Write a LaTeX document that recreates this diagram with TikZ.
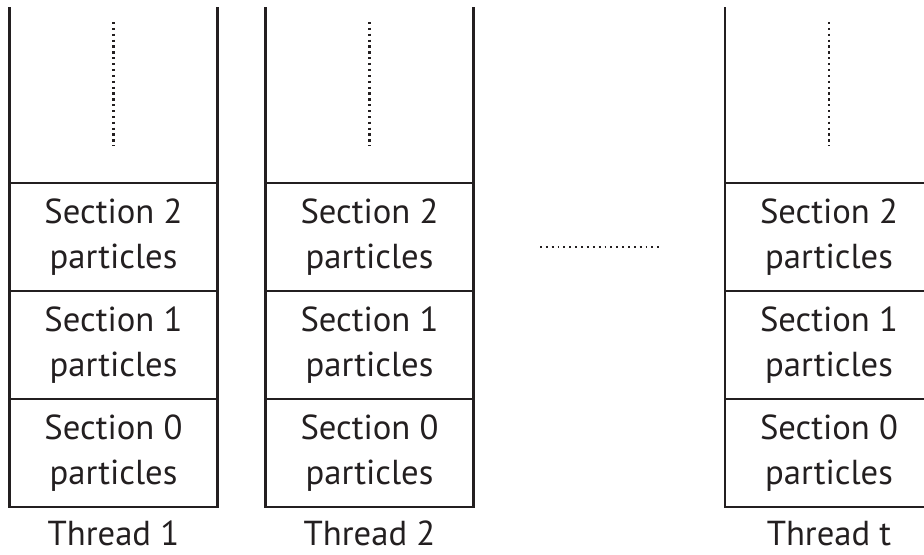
\documentclass[tikz,border=0pt]{standalone}
\usepackage{fontspec}
\setmainfont{PT Sans}
\usetikzlibrary{positioning}

\definecolor{inkgray}{HTML}{231F20}

\tikzset{
  frame/.style={line width=2pt, draw=inkgray},
  cell/.style={frame, rectangle, minimum width=156pt, minimum height=81pt,
    inner sep=0pt, outer sep=0pt, align=center, text=inkgray,
    font=\fontsize{26}{34}\selectfont},
  vdots/.style={draw=inkgray, line width=1.7pt, dash pattern=on 1.7pt off 2.7pt},
  hdots/.style={draw=inkgray, line width=1.4pt, dash pattern=on 1.4pt off 3pt},
  threadlbl/.style={text=inkgray, font=\fontsize{26}{34}\selectfont,
    anchor=base, inner sep=0pt}
}

\newcommand{\pcthread}[3]{%
  % One thread stack: #1=left x, #2=node prefix, #3=thread label
  \draw[frame] (#1,7) -- (#1,184);
  \draw[frame] ({#1+208},7) -- ({#1+208},184);
  \draw[vdots] ({#1+104},22) -- ({#1+104},146);
  \node[cell, anchor=north] (#2s2) at ({#1+104},183) {Section 2\\particles};
  \node[cell, below=0pt of #2s2] (#2s1) {Section 1\\particles};
  \node[cell, below=0pt of #2s1] (#2s0) {Section 0\\particles};
  \node[threadlbl] (#2lbl) at ({#1+104},545) {#3};%
}

\begin{document}
\begin{tikzpicture}[x=0.75pt, y=-0.75pt]
\useasboundingbox (0,0) rectangle (924,554);

% ================================================================
% Per-thread particle stacks
% ================================================================
\pcthread{9.5}{ta}{Thread 1}
\pcthread{265.5}{tb}{Thread 2}
\pcthread{725}{tt}{Thread t}

% ================================================================
% Elided threads between 2 and t
% ================================================================
\draw[hdots] (540,247) -- (663,247);

\end{tikzpicture}
\end{document}
